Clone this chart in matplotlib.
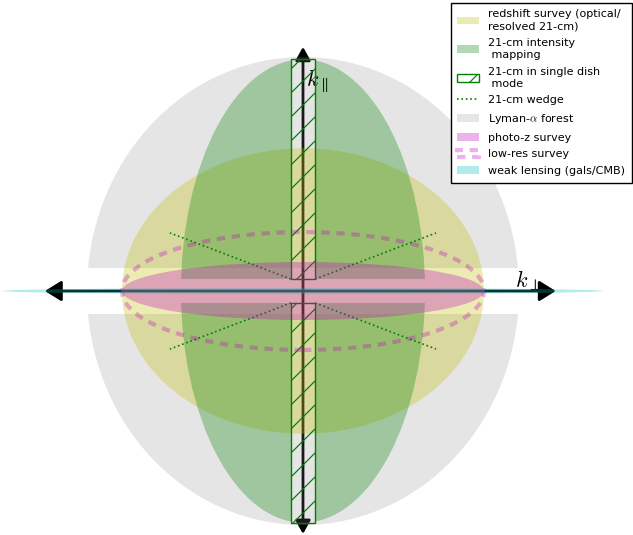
# k-space coverage of different survey types

import matplotlib
matplotlib.use("Agg")
import matplotlib.pyplot as plt
from matplotlib.patches import Ellipse, Rectangle, Patch
from matplotlib.lines import Line2D

plt.rcParams['mathtext.fontset'] = 'cm'
plt.rcParams['hatch.color'] = 'g'
plt.rcParams['hatch.linewidth'] = 1.2

DPI = 72
S = 100 / DPI   # sizes below were tuned at 100 dpi

# semi-axes (k_perp, k_par) of each survey region, in units of the Ly-a reach
lya_axes = (1.0, 1.0)
lya_kpar_min = 0.10                # low k_par lost to continuum fitting
redshift_axes = (0.838, 0.61)
im_axes = (0.565, 0.99)
im_kperp_min = 0.056               # no short baselines in interferometer mode
im_kpar_min = 0.051                # foreground loss
wedge_kperp = [0.056, 0.616]
wedge_kpar = [0.051, 0.248]
photoz_axes = (0.838, 0.124)
lowres_axes = (0.838, 0.252)
lensing_axes = (1.39, 0.013)

kperp_arrow = (-1.195, 1.17)
kpar_arrow = (-1.038, 1.043)

labels = [
    "redshift survey (optical/\nresolved 21-cm)",
    "21-cm intensity\n mapping",
    "21-cm in single dish\n mode",
    "21-cm wedge",
    r"Lyman-$\alpha$ forest",
    "photo-z survey",
    "low-res survey",
    "weak lensing (gals/CMB)",
]

fig = plt.figure(figsize=(633 / DPI, 535 / DPI), dpi=DPI)
ax = fig.add_axes([0, 0, 1, 1])
ax.set_xlim(-1.4028, 1.5278)
ax.set_ylim(-1.0427, 1.2436)
ax.axis('off')

# axes arrows (underneath the shaded regions)
h_arrow = dict(arrowstyle='<|-|>,head_length=1.0,head_width=0.62', color='k',
               lw=2 * S, mutation_scale=10 * S, shrinkA=0, shrinkB=0)
v_arrow = dict(arrowstyle='<|-|>,head_length=0.8,head_width=0.45', color='k',
               lw=2 * S, mutation_scale=10 * S, shrinkA=0, shrinkB=0)
ax.annotate('', xy=(kperp_arrow[1], 0), xytext=(kperp_arrow[0], 0),
            arrowprops=h_arrow, zorder=1)
ax.annotate('', xy=(0, kpar_arrow[1]), xytext=(0, kpar_arrow[0]),
            arrowprops=v_arrow, zorder=1)
ax.text(0.015, 0.895, r'$k_\parallel$', fontsize=16 * S, ha='left', va='center')
ax.text(0.98, 0.045, r'$k_\perp$', fontsize=16 * S, ha='left', va='center')

# Lyman-alpha: disk with the low-k_par strip removed
for sign in (1, -1):
    e = Ellipse((0, 0), 2 * lya_axes[0], 2 * lya_axes[1], color='grey',
                alpha=0.2, lw=0, zorder=2)
    ax.add_patch(e)
    clip = Rectangle((-2, lya_kpar_min if sign > 0 else -2), 4, 2 - lya_kpar_min,
                     transform=ax.transData)
    e.set_clip_path(clip)

# redshift survey
ax.add_patch(Ellipse((0, 0), 2 * redshift_axes[0], 2 * redshift_axes[1],
                     color='y', alpha=0.3, lw=0, zorder=3))

# 21-cm intensity mapping: ellipse minus the central cross
for sx in (1, -1):
    for sy in (1, -1):
        e = Ellipse((0, 0), 2 * im_axes[0], 2 * im_axes[1], color='g',
                    alpha=0.3, lw=0, zorder=4)
        ax.add_patch(e)
        x0 = im_kperp_min if sx > 0 else -2
        y0 = im_kpar_min if sy > 0 else -2
        e.set_clip_path(Rectangle((x0, y0), 2 - im_kperp_min, 2 - im_kpar_min,
                                  transform=ax.transData))

# single dish mode
for sy in (1, -1):
    y0 = im_kpar_min if sy > 0 else -im_axes[1]
    ax.add_patch(Rectangle((-im_kperp_min, y0), 2 * im_kperp_min,
                           im_axes[1] - im_kpar_min, fill=False,
                           edgecolor='g', hatch='/', lw=1 * S, zorder=6))

# wedge
for sx in (1, -1):
    for sy in (1, -1):
        ax.plot([sx * k for k in wedge_kperp], [sy * k for k in wedge_kpar],
                ':', color='g', lw=1.2 * S, zorder=7)

# photo-z, low-res, lensing
ax.add_patch(Ellipse((0, 0), 2 * photoz_axes[0], 2 * photoz_axes[1],
                     color='m', alpha=0.3, lw=0, zorder=8))
ax.add_patch(Ellipse((0, 0), 2 * lowres_axes[0], 2 * lowres_axes[1],
                     fill=False, edgecolor='m', alpha=0.3, lw=3 * S,
                     ls=(0, (2.0, 1.6)), zorder=8))
ax.add_patch(Ellipse((0, 0), 2 * lensing_axes[0], 2 * lensing_axes[1],
                     color='c', alpha=0.3, lw=0, zorder=9))

handles = [
    Patch(color='y', alpha=0.3, lw=0),
    Patch(color='g', alpha=0.3, lw=0),
    Patch(fill=False, edgecolor='g', hatch='/', lw=1 * S),
    Line2D([], [], ls=':', color='g', lw=1.2 * S),
    Patch(color='grey', alpha=0.2, lw=0),
    Patch(color='m', alpha=0.3, lw=0),
    Patch(fill=False, edgecolor='m', alpha=0.3, lw=3 * S, ls=(0, (2.0, 1.6))),
    Patch(color='c', alpha=0.3, lw=0),
]
leg = fig.legend(handles, labels, loc='upper right',
                 bbox_to_anchor=(0.9985, 0.995), fontsize=8 * S,
                 fancybox=False, framealpha=1, edgecolor='k',
                 borderaxespad=0.0, borderpad=0.6, handlelength=2.0,
                 labelspacing=0.6)
leg.get_frame().set_linewidth(1.0 * S)
for t in leg.get_texts():
    t.set_linespacing(1.25)

fig.savefig('out.png', dpi=DPI)
